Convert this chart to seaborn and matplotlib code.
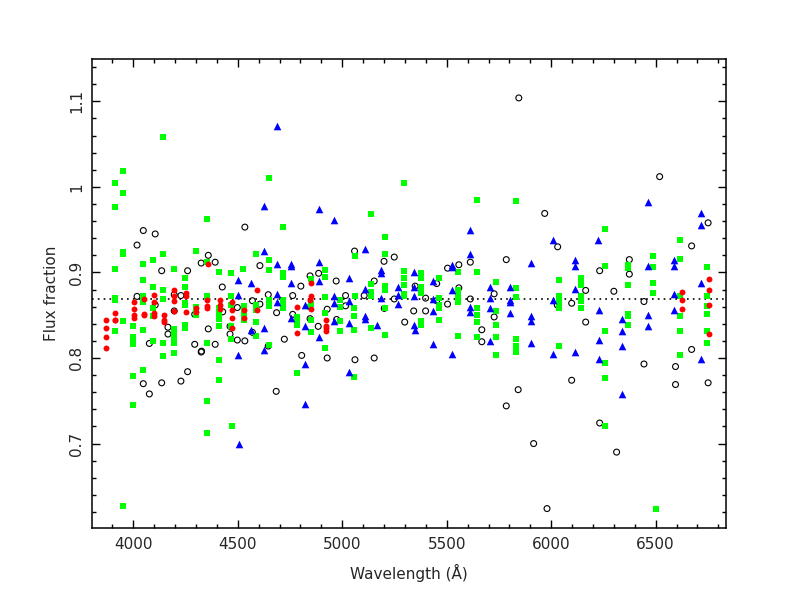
import numpy as np
import pandas as pd
import seaborn as sns
import matplotlib
matplotlib.use("Agg")
import matplotlib.pyplot as plt
from matplotlib.ticker import MultipleLocator

# ---------------- data ----------------
red_x = [3869, 3869, 3869, 3869, 3911, 3911, 3911, 4003, 4003, 4003, 4003,
         4051, 4051, 4051, 4098, 4098, 4098, 4098, 4147, 4147, 4147,
         4196, 4196, 4196, 4196, 4251, 4251, 4251, 4301, 4301, 4359,
         4355, 4355, 4355, 4415, 4415, 4415, 4471, 4471, 4471, 4471,
         4528, 4528, 4590, 4593, 4782, 4782, 4846, 4850, 4850, 4849,
         4921, 4921, 4921, 4921, 6627, 6627, 6627, 6756, 6756, 6756, 6756]
red_y = [0.844, 0.835, 0.824, 0.812, 0.853, 0.845, 0.844, 0.866, 0.857, 0.850, 0.847,
         0.852, 0.850, 0.869, 0.874, 0.866, 0.853, 0.849, 0.850, 0.845, 0.842,
         0.880, 0.873, 0.867, 0.855, 0.876, 0.872, 0.854, 0.859, 0.854, 0.910,
         0.868, 0.861, 0.858, 0.868, 0.862, 0.857, 0.866, 0.856, 0.847, 0.835,
         0.856, 0.847, 0.879, 0.856, 0.860, 0.829, 0.868, 0.888, 0.872, 0.857,
         0.844, 0.837, 0.835, 0.831, 0.877, 0.868, 0.857, 0.892, 0.879, 0.862, 0.828]

green_x = [3911, 3911, 3911, 3911, 3911, 3911,
           3952, 3952, 3952, 3952, 3952, 3952,
           3997, 3997, 3997, 3997, 3997, 3997,
           4048, 4048, 4048, 4048, 4048, 4048,
           4096, 4096, 4096, 4096, 4096,
           4144, 4144, 4144, 4144, 4144, 4144,
           4195, 4195, 4195, 4195, 4195, 4195,
           4246, 4246, 4246, 4246, 4246, 4246,
           4300, 4300, 4300, 4300,
           4353, 4353, 4355, 4355, 4355, 4355,
           4409, 4410, 4410, 4410, 4410, 4410, 4410,
           4469, 4469, 4469, 4469, 4469, 4471,
           4526, 4528, 4528, 4528, 4528,
           4587, 4587, 4587, 4587, 4587,
           4651, 4651, 4651, 4651, 4651, 4651,
           4715, 4715, 4715, 4718, 4718, 4718,
           4782, 4782, 4782, 4782, 4846, 4850, 4849, 4849, 4849,
           4917, 4917, 4917, 4917, 4917,
           4989, 4989, 4989, 4989,
           5059, 5059, 5057, 5057, 5057, 5057,
           5137, 5136, 5136, 5136, 5136,
           5206, 5206, 5206, 5206, 5204, 5204,
           5294, 5294, 5294, 5294, 5294, 5294,
           5377, 5377, 5377, 5377, 5377, 5377,
           5463, 5463, 5463, 5463, 5463,
           5552, 5552, 5552, 5552, 5552,
           5643, 5643, 5643, 5643, 5643, 5643,
           5735, 5735, 5735, 5735, 5735,
           5831, 5831, 5831, 5831, 5831, 5831,
           6035, 6035, 6035, 6035, 6035, 6035,
           6144, 6144, 6144, 6144, 6144, 6144,
           6257, 6257, 6257, 6257, 6257, 6257,
           6369, 6369, 6369, 6369, 6369, 6369,
           6488, 6488, 6488, 6488, 6502,
           6616, 6616, 6616, 6616, 6616, 6616,
           6744, 6744, 6744, 6744, 6744, 6744]
green_y = [0.904, 0.870, 0.868, 0.832, 1.005, 0.976,
           0.924, 0.921, 0.843, 1.019, 0.993, 0.627,
           0.837, 0.824, 0.821, 0.816, 0.779, 0.745,
           0.910, 0.891, 0.872, 0.866, 0.833, 0.786,
           0.914, 0.883, 0.859, 0.849, 0.820,
           0.922, 0.879, 0.869, 0.818, 0.802, 1.058,
           0.904, 0.834, 0.829, 0.825, 0.818, 0.806,
           0.894, 0.883, 0.864, 0.862, 0.839, 0.835,
           0.925, 0.860, 0.856, 0.850,
           0.962, 0.912, 0.872, 0.817, 0.750, 0.712,
           0.901, 0.859, 0.852, 0.846, 0.837, 0.798, 0.774,
           0.899, 0.872, 0.862, 0.837, 0.822, 0.721,
           0.904, 0.861, 0.856, 0.850, 0.844,
           0.922, 0.862, 0.856, 0.842, 0.826,
           0.914, 0.903, 1.010, 0.868, 0.861, 0.815,
           0.953, 0.899, 0.895, 0.868, 0.864, 0.859,
           0.848, 0.842, 0.838, 0.782, 0.860, 0.892, 0.863, 0.844, 0.830,
           0.903, 0.895, 0.871, 0.853, 0.812,
           0.868, 0.860, 0.843, 0.832,
           0.919, 0.872, 0.859, 0.849, 0.833, 0.778,
           0.968, 0.886, 0.877, 0.873, 0.835,
           0.942, 0.921, 0.884, 0.879, 0.858, 0.827,
           1.004, 0.902, 0.893, 0.885, 0.875, 0.872,
           0.899, 0.893, 0.883, 0.876, 0.843, 0.838,
           0.894, 0.870, 0.862, 0.858, 0.844,
           0.900, 0.879, 0.873, 0.865, 0.826,
           0.985, 0.900, 0.859, 0.850, 0.842, 0.825,
           0.889, 0.855, 0.838, 0.824, 0.804,
           0.983, 0.882, 0.871, 0.822, 0.814, 0.807,
           0.891, 0.873, 0.866, 0.862, 0.858, 0.814,
           0.893, 0.889, 0.885, 0.872, 0.867, 0.858,
           0.951, 0.908, 0.831, 0.794, 0.777, 0.721,
           0.909, 0.905, 0.885, 0.852, 0.849, 0.838,
           0.919, 0.906, 0.888, 0.876, 0.624,
           0.938, 0.916, 0.872, 0.849, 0.832, 0.804,
           0.906, 0.872, 0.861, 0.851, 0.832, 0.818]

blue_x = [4502, 4502, 4502, 4507, 4563, 4562, 4625, 4625, 4624, 4624,
          4689, 4689, 4689, 4689, 4753, 4753, 4753, 4753,
          4822, 4822, 4822, 4822, 4890, 4890, 4890, 4889,
          4960, 4962, 4962, 4962, 5034, 5034, 5034, 5034,
          5109, 5109, 5109, 5109, 5185, 5185, 5185, 5168,
          5268, 5268, 5268, 5342, 5342, 5342, 5342, 5349,
          5434, 5434, 5434, 5434, 5524, 5524, 5524, 5524,
          5612, 5613, 5613, 5613, 5707, 5707, 5707, 5707,
          5804, 5804, 5804, 5804, 5903, 5903, 5903, 5903,
          6007, 6008, 6008, 6115, 6115, 6115, 6115,
          6225, 6228, 6228, 6228, 6340, 6340, 6340, 6340,
          6463, 6463, 6463, 6463, 6589, 6589, 6589, 6589,
          6716, 6716, 6716, 6716]
blue_y = [0.891, 0.874, 0.804, 0.699, 0.888, 0.833, 0.978, 0.925, 0.835, 0.809,
          1.071, 0.910, 0.875, 0.866, 0.910, 0.907, 0.888, 0.847,
          0.862, 0.837, 0.793, 0.746, 0.974, 0.912, 0.890, 0.824,
          0.961, 0.872, 0.864, 0.843, 0.894, 0.867, 0.841, 0.784,
          0.927, 0.881, 0.849, 0.846, 0.903, 0.899, 0.870, 0.838,
          0.883, 0.874, 0.863, 0.901, 0.883, 0.873, 0.838, 0.833,
          0.890, 0.869, 0.855, 0.816, 0.909, 0.906, 0.879, 0.805,
          0.950, 0.921, 0.860, 0.854, 0.883, 0.870, 0.858, 0.820,
          0.883, 0.868, 0.865, 0.853, 0.911, 0.849, 0.843, 0.817,
          0.938, 0.868, 0.805, 0.915, 0.907, 0.881, 0.807,
          0.938, 0.856, 0.821, 0.799, 0.846, 0.832, 0.814, 0.758,
          0.982, 0.908, 0.850, 0.837, 0.914, 0.908, 0.875, 0.856,
          0.969, 0.956, 0.888, 0.799]

black_x = [4048, 4048, 4105, 4018, 4018, 4136, 4136, 4260, 4260, 4325, 4325,
           4105, 4196, 4196, 4228, 4228, 4166, 4166, 4077, 4077, 4294, 4294,
           4359, 4359, 4392, 4392, 4426, 4428, 4327, 4534, 4534, 4606, 4606,
           4646, 4646, 4763, 4763, 4802, 4806, 4846, 4846, 4887, 4885,
           4971, 4973, 5016, 5016, 5059, 5061, 5105, 5153, 5153, 5200, 5201,
           4463, 4463, 4498, 4498, 4570, 4570, 4686, 4723, 4684, 4928, 4928,
           5249, 5249, 5299, 5342, 5349, 5399, 5399, 5452, 5452, 5504, 5504,
           5558, 5558, 5613, 5613, 5668, 5668, 5727, 5727, 5785, 5785, 5842,
           5845, 5969, 5916, 5980, 6031, 6029, 6098, 6098, 6165, 6165,
           6232, 6232, 6300, 6313, 6374, 6374, 6444, 6444, 6519,
           6595, 6595, 6672, 6672, 6751, 6751]
black_y = [0.949, 0.770, 0.945, 0.932, 0.872, 0.902, 0.771, 0.902, 0.784, 0.911, 0.807,
           0.862, 0.874, 0.855, 0.873, 0.773, 0.836, 0.828, 0.817, 0.758, 0.816, 0.851,
           0.920, 0.834, 0.912, 0.816, 0.883, 0.854, 0.808, 0.953, 0.820, 0.908, 0.863,
           0.874, 0.814, 0.873, 0.851, 0.884, 0.803, 0.896, 0.846, 0.899, 0.837,
           0.890, 0.845, 0.873, 0.861, 0.925, 0.798, 0.873, 0.890, 0.800, 0.913, 0.858,
           0.837, 0.828, 0.859, 0.821, 0.867, 0.830, 0.853, 0.822, 0.761, 0.857, 0.800,
           0.918, 0.869, 0.842, 0.855, 0.884, 0.870, 0.855, 0.887, 0.867, 0.905, 0.863,
           0.909, 0.882, 0.912, 0.869, 0.833, 0.819, 0.875, 0.848, 0.915, 0.744, 0.763,
           1.104, 0.969, 0.700, 0.624, 0.930, 0.862, 0.864, 0.774, 0.879, 0.842,
           0.902, 0.724, 0.878, 0.690, 0.915, 0.898, 0.866, 0.793, 1.012,
           0.790, 0.769, 0.931, 0.810, 0.958, 0.771]

ref_level = 0.869
x_ticks = [4000, 4500, 5000, 5500, 6000, 6500]
y_ticks = [0.7, 0.8, 0.9, 1.0, 1.1]
y_ticklabels = ["0.7", "0.8", "0.9", "1", "1.1"]

# ---------------- plot ----------------
sns.set_style("ticks")
plt.rcParams['font.family'] = ['DejaVu Sans']

fig = plt.figure(figsize=(7.89, 6.10), dpi=100)
ax = fig.add_axes([0.117, 0.134, 0.803, 0.770])

ax.axhline(ref_level, color="black", linestyle=(0, (1, 2.5)), linewidth=1.2, zorder=1)

sns.scatterplot(x=black_x, y=black_y, marker="o", s=18, color="black",
                facecolor="none", edgecolor="black", linewidth=0.8, ax=ax, zorder=2)
sns.scatterplot(x=green_x, y=green_y, marker="s", s=13, color="#00ff00",
                linewidth=0, ax=ax, zorder=3)
sns.scatterplot(x=red_x, y=red_y, marker="o", s=18, color="#ff0000",
                linewidth=0, ax=ax, zorder=4)
sns.scatterplot(x=blue_x, y=blue_y, marker="^", s=30, color="#0000ff",
                linewidth=0, ax=ax, zorder=5)

ax.set_xlim(3804, 6836)
ax.set_ylim(0.601, 1.150)
ax.set_xticks(x_ticks)
ax.set_yticks(y_ticks)
ax.set_yticklabels(y_ticklabels, rotation=90, va="center")
ax.xaxis.set_minor_locator(MultipleLocator(100))
ax.yaxis.set_minor_locator(MultipleLocator(0.02))
ax.tick_params(which="both", direction="in", top=True, right=True,
               labelsize=11, width=1.0, color="black")
ax.tick_params(which="major", length=5.5, pad=6)
ax.tick_params(which="minor", length=3)
for sp in ax.spines.values():
    sp.set_linewidth(1.1)
    sp.set_color("black")

ax.set_xlabel("Wavelength (Å)", fontsize=11, labelpad=9)
ax.set_ylabel("Flux fraction", fontsize=11, labelpad=7)

fig.savefig("out.png", dpi=100)
